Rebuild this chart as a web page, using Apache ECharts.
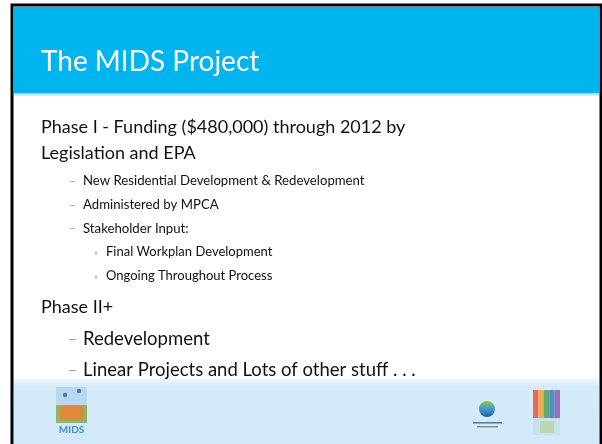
<!DOCTYPE html>
<html>
<head>
<meta charset="utf-8">
<script src="https://cdn.jsdelivr.net/npm/echarts@6/dist/echarts.min.js"></script>
<style>
  html, body { margin: 0; padding: 0; background: #fff; }
  #main { width: 602px; height: 444px; }
</style>
</head>
<body>
<div id="main"></div>
<script>
// slide text
const title = 'The MIDS Project';
const level1 = ['Phase I - Funding ($480,000) through 2012 by', 'Legislation and EPA', 'Phase II+'];
const level1Y = [127, 153, 307];
const level2 = ['New Residential Development & Redevelopment', 'Administered by MPCA', 'Stakeholder Input:'];
const level2Y = [181, 205, 228.5];
const level3 = ['Final Workplan Development', 'Ongoing Throughout Process'];
const level3Y = [252, 276];
const phase2Items = ['Redevelopment', 'Linear Projects and Lots of other stuff . . .'];
const phase2Y = [339, 370];

const FONT = 'Lato, "Open Sans", sans-serif';
const chart = echarts.init(document.getElementById('main'));

function txt(s, x, y, size, color, weight) {
  return {
    type: 'text',
    style: { text: s, x: x, y: y, font: (weight || '') + ' ' + size + 'px ' + FONT, fill: color, verticalAlign: 'middle' }
  };
}

const els = [];
// slide frame
els.push({ type: 'rect', shape: { x: 12, y: 5, width: 589, height: 445 }, style: { fill: '#fff', stroke: '#000', lineWidth: 3 } });
// header band
els.push({ type: 'rect', shape: { x: 14, y: 7, width: 585, height: 86 }, style: { fill: '#00b5ef' } });
els.push({ type: 'rect', shape: { x: 14, y: 93, width: 585, height: 3 },
  style: { fill: new echarts.graphic.LinearGradient(0, 0, 0, 1, [{ offset: 0, color: '#8fd6f4' }, { offset: 1, color: '#e6f5fc' }]) } });
// footer band
els.push({ type: 'rect', shape: { x: 14, y: 379, width: 585, height: 70 },
  style: { fill: new echarts.graphic.LinearGradient(0, 0, 0, 1, [{ offset: 0, color: '#eef7fd' }, { offset: 0.1, color: '#d6ebf9' }, { offset: 1, color: '#d2e9f9' }]) } });

els.push(txt(title, 41, 62, 28, '#ffffff'));
level1.forEach((s, i) => els.push(txt(s, 41, level1Y[i], 18, '#111')));
level2.forEach((s, i) => {
  els.push(txt('\u2013', 69, level2Y[i], 12, '#999'));
  els.push(txt(s, 83, level2Y[i], 13.2, '#111'));
});
level3.forEach((s, i) => {
  els.push({ type: 'circle', shape: { cx: 96, cy: level3Y[i] + 1, r: 1.5 }, style: { fill: '#bbb' } });
  els.push(txt(s, 106, level3Y[i], 13, '#111'));
});
phase2Items.forEach((s, i) => {
  els.push(txt('\u2013', 68, phase2Y[i], 16, '#999'));
  els.push(txt(s, 83, phase2Y[i], 18.5, '#111'));
});

// MIDS logo
els.push({ type: 'rect', shape: { x: 56, y: 387, width: 31, height: 36 }, style: { fill: '#8cb46a' } });
els.push({ type: 'rect', shape: { x: 56, y: 387, width: 31, height: 18 }, style: { fill: '#b9d8ee' } });
els.push({ type: 'rect', shape: { x: 60, y: 406, width: 24, height: 14 }, style: { fill: '#e0893a' } });
els.push({ type: 'circle', shape: { cx: 65, cy: 395, r: 2.2 }, style: { fill: '#3a7fc0' } });
els.push({ type: 'circle', shape: { cx: 79, cy: 391, r: 2.2 }, style: { fill: '#3a7fc0' } });
els.push({ type: 'text', style: { text: 'MIDS', x: 71.5, y: 430, font: 'bold 10px ' + FONT, fill: '#3d8fd6', align: 'center', verticalAlign: 'middle' } });

// MPCA logo
els.push({ type: 'circle', shape: { cx: 487, cy: 409, r: 8 },
  style: { fill: new echarts.graphic.LinearGradient(0, 0, 0, 1, [{ offset: 0, color: '#8cc63f' }, { offset: 0.5, color: '#3f9bd0' }, { offset: 1, color: '#1f5fa8' }]) } });
els.push({ type: 'rect', shape: { x: 473, y: 422, width: 29, height: 1.5 }, style: { fill: '#5a7790' } });
els.push({ type: 'rect', shape: { x: 477, y: 426, width: 21, height: 1.5 }, style: { fill: '#7a93a8' } });

// right colourful logo
const stripes = ['#e8553a', '#f2a33a', '#4a9c5a', '#3d7fc6', '#8a5cb0'];
stripes.forEach((c, i) => {
  els.push({ type: 'rect', shape: { x: 533 + i * 5.4, y: 390, width: 5.4, height: 28 }, style: { fill: c, opacity: 0.85 } });
});
els.push({ type: 'rect', shape: { x: 533, y: 418, width: 27, height: 17 }, style: { fill: '#c8dff0' } });
els.push({ type: 'rect', shape: { x: 540, y: 421, width: 14, height: 12 }, style: { fill: '#b7d48f', opacity: 0.7 } });

chart.setOption({ animation: false, graphic: { elements: els } });
</script>
</body>
</html>
